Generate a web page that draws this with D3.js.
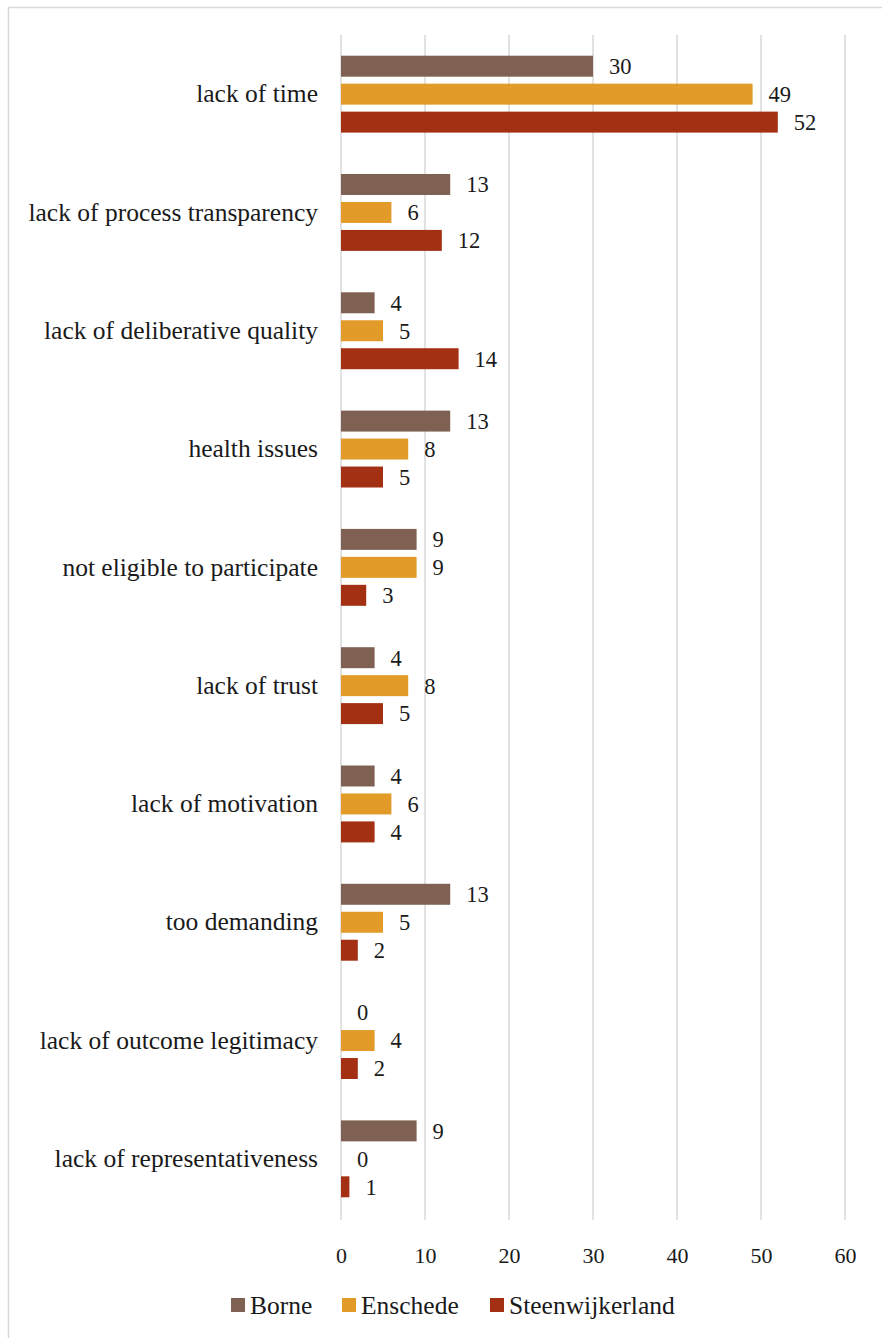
<!DOCTYPE html>
<html>
<head>
<meta charset="utf-8">
<script src="https://cdn.jsdelivr.net/npm/d3@7"></script>
<style>
  html, body { margin: 0; padding: 0; background: #fff; }
  svg { display: block; }
</style>
</head>
<body>
<svg id="chart" width="882" height="1338"></svg>
<script>
// Reasons for not participating, by municipality
const categories = [
  "lack of time",
  "lack of process transparency",
  "lack of deliberative quality",
  "health issues",
  "not eligible to participate",
  "lack of trust ",
  "lack of motivation",
  "too demanding",
  "lack of outcome legitimacy",
  "lack of representativeness"
];
const seriesNames = ["Borne", "Enschede", "Steenwijkerland"];
const borne = [30, 13, 4, 13, 9, 4, 4, 13, 0, 9];
const enschede = [49, 6, 5, 8, 9, 8, 6, 5, 4, 0];
const steenwijkerland = [52, 12, 14, 5, 3, 5, 4, 2, 2, 1];
const xTicks = [0, 10, 20, 30, 40, 50, 60];
const colors = ["#7f6153", "#e29a28", "#a33013"];

const seriesValues = [borne, enschede, steenwijkerland];
const FONT = "'Liberation Serif'";
const INK = "#1a1a1a";

const svg = d3.select("#chart");

// outer frame
svg.append("rect")
  .attr("x", 8.5).attr("y", 7.5)
  .attr("width", 882).attr("height", 1340)
  .attr("fill", "none").attr("stroke", "#d9d9d9").attr("stroke-width", 1.5);

const plot = { left: 341, right: 845, top: 35, bottom: 1218 };

const x = d3.scaleLinear().domain([0, 60]).range([plot.left, plot.right]);
const y = d3.scaleBand().domain(categories).range([plot.top, plot.bottom]).paddingInner(0.35).paddingOuter(0.175);
const yInner = d3.scaleBand().domain(seriesNames).range([0, y.bandwidth()]).paddingInner(0.25);

// vertical gridlines
svg.append("g")
  .selectAll("line")
  .data(xTicks)
  .join("line")
  .attr("x1", d => x(d)).attr("x2", d => x(d))
  .attr("y1", plot.top).attr("y2", plot.bottom + 2)
  .attr("stroke", "#d9d9d9").attr("stroke-width", 1.5);

// x axis tick labels
const xAxis = d3.axisBottom(x).tickValues(xTicks).tickSize(0).tickPadding(0);
const gx = svg.append("g").attr("transform", `translate(0,${plot.bottom + 37})`).call(xAxis);
gx.attr("font-family", null).attr("font-size", null);
gx.select(".domain").remove();
gx.selectAll("text")
  .attr("dy", "0.35em")
  .style("font-family", FONT).style("font-size", "22px").style("fill", INK);

// category labels
const yAxis = d3.axisLeft(y).tickSize(0).tickPadding(0);
const gy = svg.append("g").attr("transform", `translate(${plot.left - 23},0)`).call(yAxis);
gy.attr("font-family", null).attr("font-size", null);
gy.select(".domain").remove();
gy.selectAll("text")
  .style("font-family", FONT).style("font-size", "25.5px").style("fill", INK);

// bars
const rows = categories.map((c, i) => ({
  category: c,
  values: seriesNames.map((s, j) => ({ series: s, value: seriesValues[j][i], color: colors[j] }))
}));

const groups = svg.append("g").selectAll("g")
  .data(rows)
  .join("g")
  .attr("transform", d => `translate(0,${y(d.category)})`);

groups.selectAll("rect")
  .data(d => d.values)
  .join("rect")
  .attr("x", x(0))
  .attr("y", d => yInner(d.series))
  .attr("width", d => x(d.value) - x(0))
  .attr("height", yInner.bandwidth())
  .attr("fill", d => d.color);

groups.selectAll("text")
  .data(d => d.values)
  .join("text")
  .attr("x", d => x(d.value) + 16)
  .attr("y", d => yInner(d.series) + yInner.bandwidth() / 2)
  .attr("dy", "0.35em")
  .style("font-family", FONT).style("font-size", "22.5px").style("fill", INK)
  .text(d => d.value);

// legend
const legendItems = [
  { name: "Borne", x: 231 },
  { name: "Enschede", x: 342 },
  { name: "Steenwijkerland", x: 490 }
];
const legend = svg.append("g").attr("transform", "translate(0,1305)");
legendItems.forEach((item, i) => {
  legend.append("rect")
    .attr("x", item.x).attr("y", -7)
    .attr("width", 14).attr("height", 14)
    .attr("fill", colors[i]);
  legend.append("text")
    .attr("x", item.x + 19).attr("y", 0)
    .attr("dy", "0.35em")
    .style("font-family", FONT).style("font-size", "25.5px").style("fill", INK)
    .text(item.name);
});
</script>
</body>
</html>
